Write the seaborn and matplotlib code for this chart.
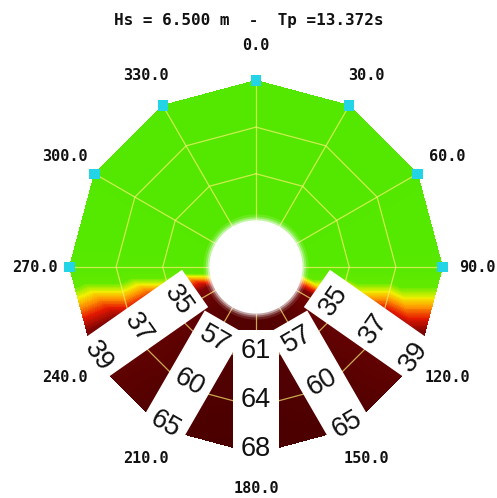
import numpy as np
import matplotlib
matplotlib.use("Agg")
import matplotlib.pyplot as plt
import matplotlib.tri as mtri
from matplotlib.colors import LinearSegmentedColormap
from matplotlib.patches import Circle
import seaborn as sns
import pandas as pd

# ---------------- data ----------------
title = "Hs = 6.500 m  -  Tp =13.372s"
directions = [0, 30, 60, 90, 120, 150, 180, 210, 240, 270, 300, 330]
ring_radii = [1, 2, 3, 4]
values_r1 = [3, 3, 3, 4, 32, 53, 58, 53, 32, 4, 3, 3]
values_r2 = [3, 3, 3, 5, 35, 57, 61, 57, 35, 5, 3, 3]
values_r3 = [3, 3, 3, 5, 37, 60, 64, 60, 37, 5, 3, 3]
values_r4 = [3, 3, 3, 5, 39, 65, 68, 65, 39, 5, 3, 3]
label_dirs = [120, 150, 180, 210, 240]
label_vals = [[35, 37, 39], [57, 60, 65], [61, 64, 68], [57, 60, 65], [35, 37, 39]]
marker_dirs = [0, 30, 60, 90, 270, 300, 330]
tick_labels = [f"{d:.1f}" for d in directions]

# ---------------- style ----------------
sns.set_theme(style="white")
plt.rcParams["font.family"] = ["DejaVu Sans"]

UNIT = 46.625
fig = plt.figure(figsize=(4.97, 4.98), dpi=100)
ax = fig.add_axes([0, 0, 1, 1])
ax.set_xlim(-256 / UNIT, 241 / UNIT)
ax.set_ylim(-231 / UNIT, 267 / UNIT)
ax.set_axis_off()

def pol(r, d):
    t = np.deg2rad(d)
    return r * np.sin(t), r * np.cos(t)

# mesh
vals = [values_r1, values_r2, values_r3, values_r4]
n = len(directions)
xs, ys, zs = [], [], []
for r, row in zip(ring_radii, vals):
    for d, v in zip(directions, row):
        x, y = pol(r, d)
        xs.append(x); ys.append(y); zs.append(v)
tris = []
for j in range(len(ring_radii) - 1):
    for i in range(n):
        a = j * n + i
        b = j * n + (i + 1) % n
        c = (j + 1) * n + i
        dd = (j + 1) * n + (i + 1) % n
        tris.append([a, b, dd])
        tris.append([a, dd, c])
tri = mtri.Triangulation(xs, ys, tris)

cmap = LinearSegmentedColormap.from_list(
    "wave",
    [(0.0, "#50e800"), (0.18, "#62ea00"), (0.235, "#f2f000"),
     (0.28, "#ff9a00"), (0.34, "#e61a00"), (0.41, "#7e0404"),
     (0.55, "#660202"), (1.0, "#480000")])
ax.tricontourf(tri, zs, levels=np.linspace(0, 70, 211), cmap=cmap,
               vmin=0, vmax=70, zorder=1, antialiased=False)

# grid
gcol = "#fff070"
for d in directions:
    x0, y0 = pol(ring_radii[0], d)
    x1, y1 = pol(ring_radii[-1], d)
    ax.plot([x0, x1], [y0, y1], color=gcol, alpha=0.7, lw=0.9, zorder=2)
for r in ring_radii[1:-1]:
    px, py = pol(r, np.array(directions + [directions[0]]))
    ax.plot(px, py, color=gcol, alpha=0.7, lw=0.9, zorder=2)

# hole with glow
for rr, al in [(1.13, 0.12), (1.08, 0.25), (1.04, 0.45)]:
    ax.add_patch(Circle((0, 0), rr, color="white", alpha=al, lw=0, zorder=3))
ax.add_patch(Circle((0, 0), 1.0, color="white", lw=0, zorder=3))

# markers
mx, my = pol(4, np.array(marker_dirs))
sns.scatterplot(x=mx, y=my, marker="s", s=55, color="#22d4e6",
                edgecolor="none", ax=ax, zorder=4, legend=False)

# value boxes (central box first, outer ones on top)
for d, vv in zip(label_dirs, label_vals):
    off = 180 - d
    sgn = np.sign(off)
    pos_d = d - sgn * 2.5 if abs(off) > 30 else d
    rot = sgn * min(abs(off), 55)
    x, y = pol(2.85, pos_d)
    z = 5 + abs(off) / 30
    ax.text(x, y, "\n".join(str(v) for v in vv), rotation=rot,
            rotation_mode="anchor", ha="center", va="center",
            multialignment="center", fontsize=19.5, linespacing=2.15,
            family=["Liberation Sans"], color="#111111", zorder=z,
            bbox=dict(boxstyle="square,pad=0.28", fc="white", ec="none"))

# direction labels
for d, lab in zip(directions, tick_labels):
    x, y = pol(4.74, d)
    ax.text(x, y, lab, ha="center", va="center", fontsize=11,
            family=["DejaVu Sans Mono"], fontweight="bold", color="#111111",
            zorder=9)

fig.text(0.5, 1 - 21 / 498, title, ha="center", va="center", fontsize=11.5,
         family=["DejaVu Sans Mono"], fontweight="bold", color="#111111")

fig.savefig("out.png", dpi=100)
